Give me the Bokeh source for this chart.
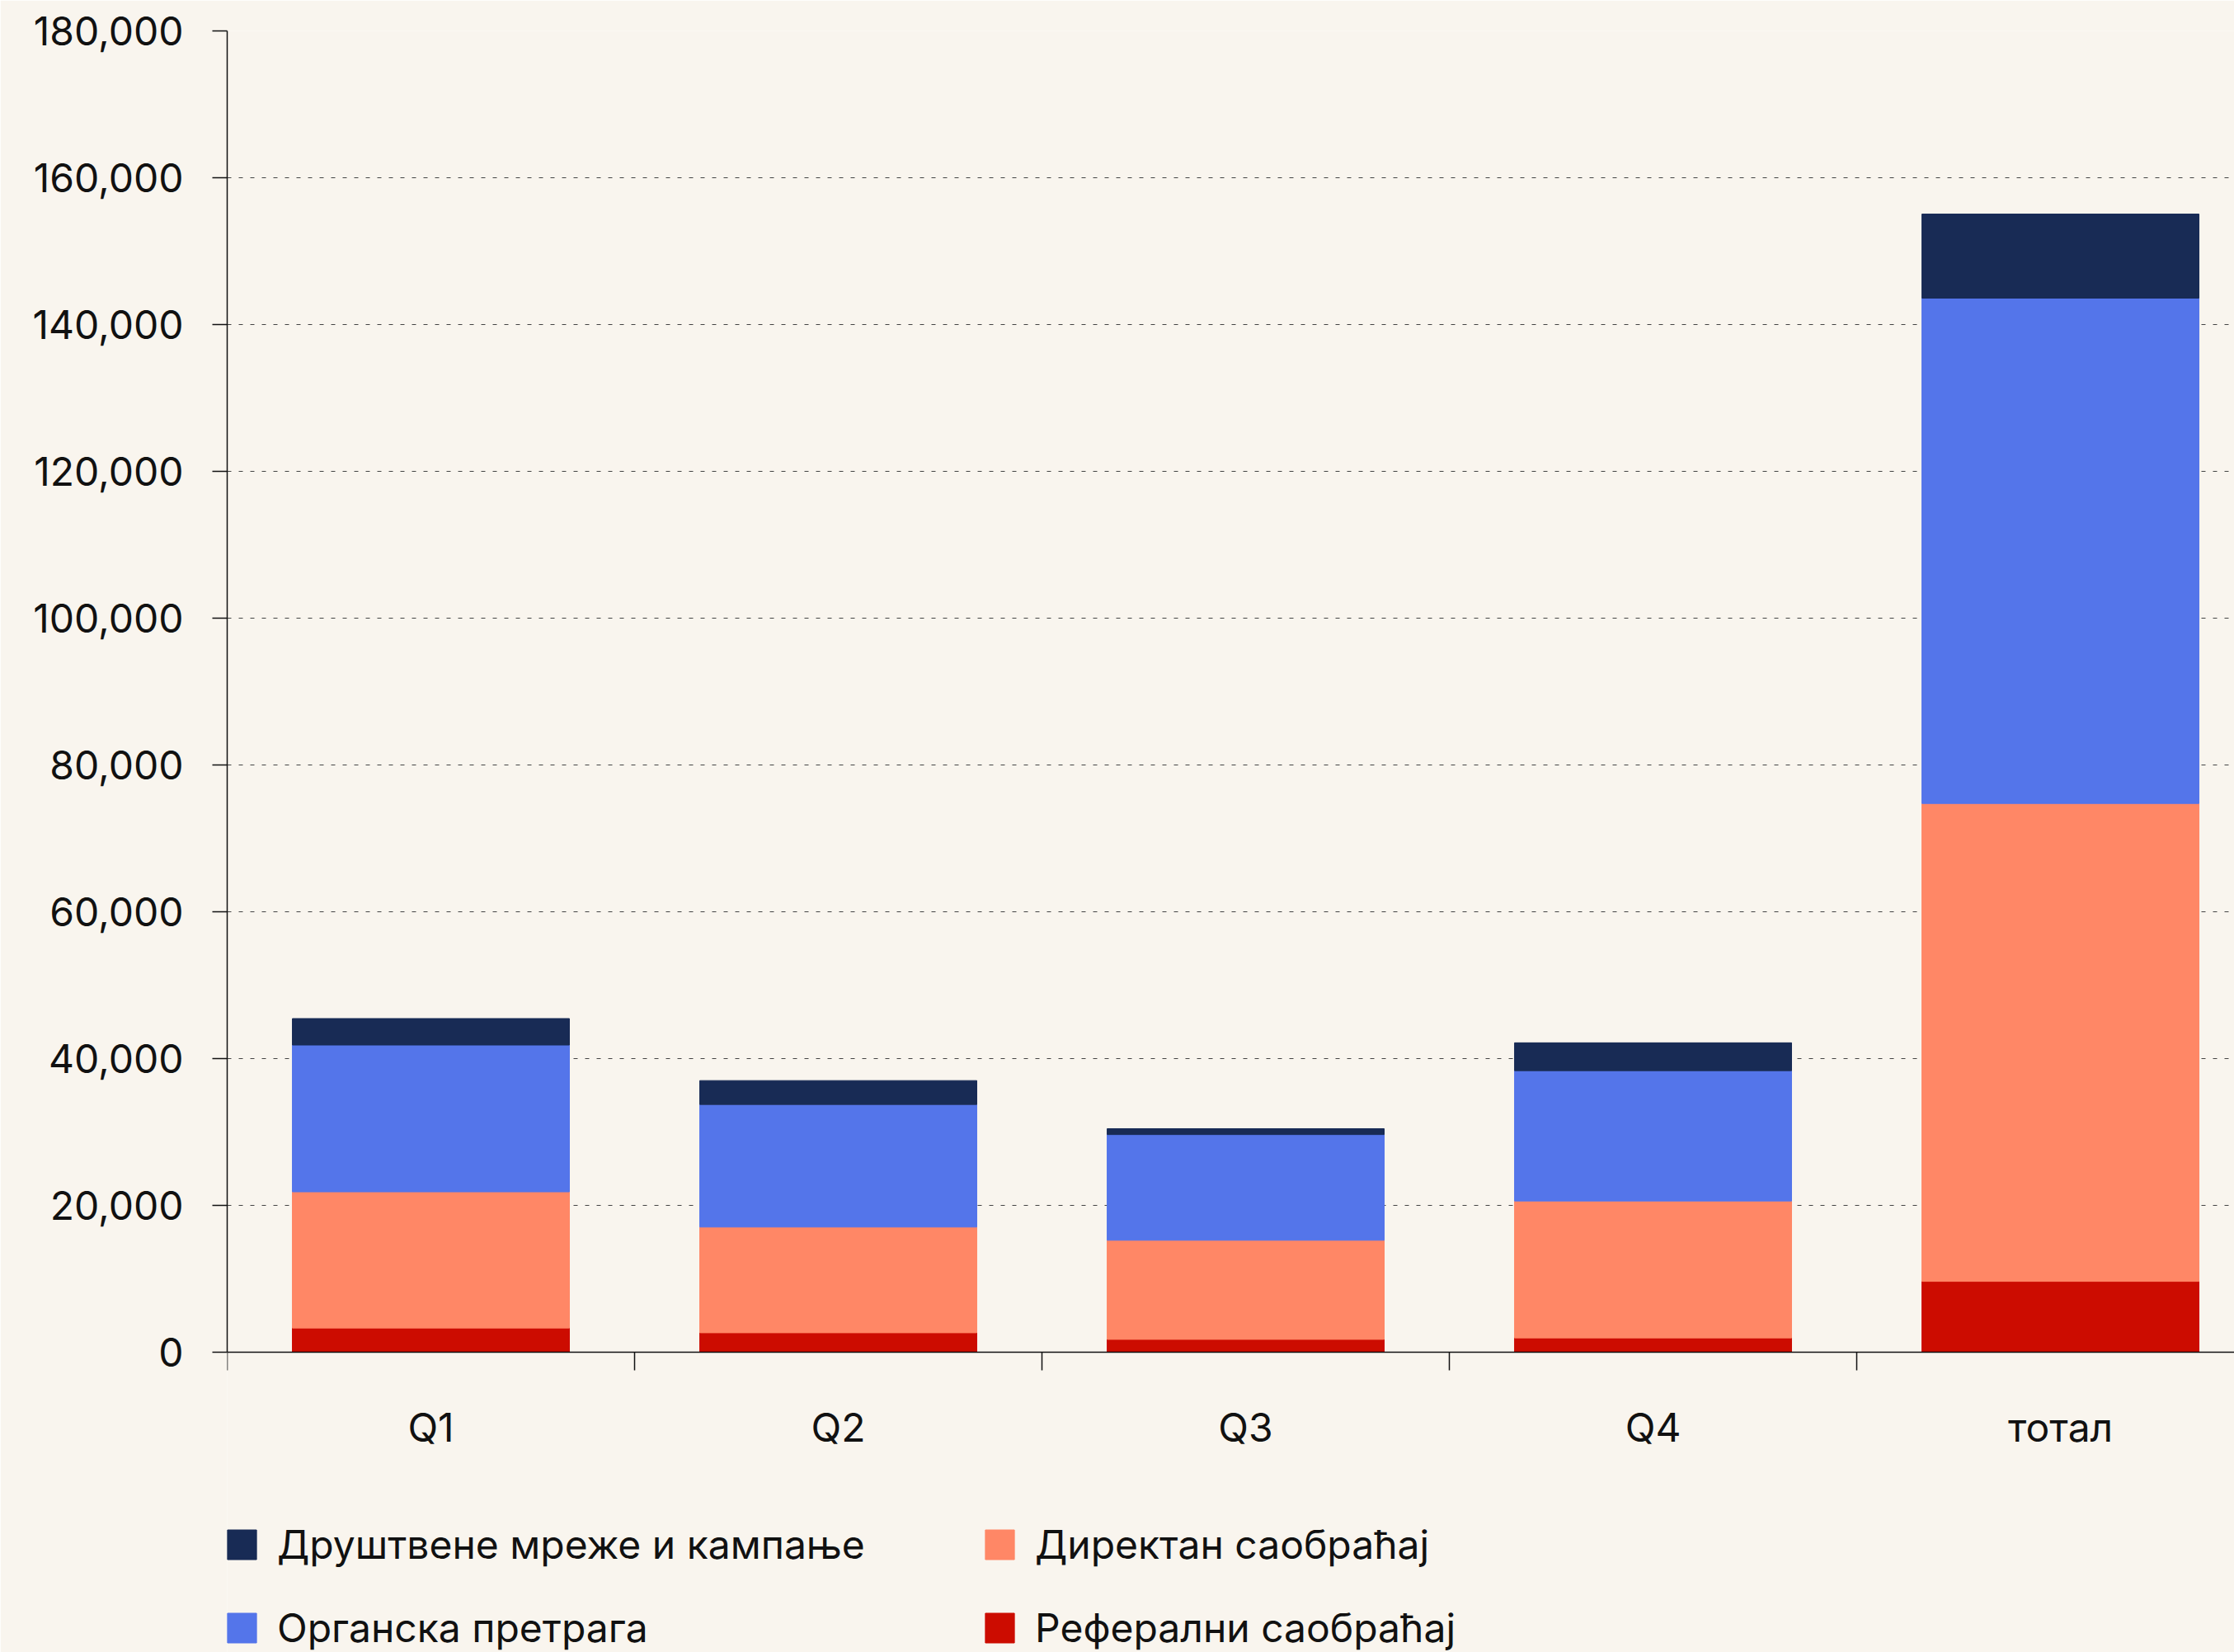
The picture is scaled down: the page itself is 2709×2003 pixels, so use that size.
from bokeh.plotting import figure
from bokeh.models import (Range1d, LinearAxis, FixedTicker, NumeralTickFormatter,
                          Legend, LegendItem, ColumnDataSource)
from bokeh.embed import file_html
from bokeh.resources import INLINE

# ---- data ----
categories = ["Q1", "Q2", "Q3", "Q4", "тотал"]
referral = [3300, 2650, 1750, 1950, 9650]
direct = [18550, 14400, 13500, 18650, 65100]
organic = [20000, 16700, 14400, 17750, 68850]
social = [3600, 3250, 800, 3800, 11450]
series_keys = ["referral", "direct", "organic", "social"]
series_labels = ["Реферални саобраћај", "Директан саобраћај",
                 "Органска претрага", "Друштвене мреже и кампање"]
series_colors = ["#CC0C00", "#FF8766", "#5475EA", "#182B55"]
y_ticks = [0, 20000, 40000, 60000, 80000, 100000, 120000, 140000, 160000, 180000]

BG = "#F9F5EE"
FONT = "Inter"
INK = "#111111"
VISIBLE = 4.927          # part of the last category slot that is visible
Y_MAX = 180000
FRAME_H = 1966           # frame runs down to the bottom of the page (legend lives inside)
PX_PER_UNIT = 178 / 20000
Y_MIN = Y_MAX - FRAME_H / PX_PER_UNIT

# category slots on a numeric axis: slot i spans [i, i+1], centre at i+0.5
x_centers = [i + 0.5 for i in range(len(categories))]
x_bounds = [float(i) for i in range(len(categories))]

source = ColumnDataSource(dict(x=x_centers, cat=categories, referral=referral,
                               direct=direct, organic=organic, social=social))

p = figure(x_range=Range1d(0, VISIBLE), y_range=Range1d(Y_MIN, Y_MAX),
           frame_width=2434, frame_height=FRAME_H,
           min_border_left=275, min_border_right=0, min_border_top=37, min_border_bottom=0,
           x_axis_location=None, output_backend="svg", toolbar_location=None,
           background_fill_color=BG, border_fill_color=BG, outline_line_color=None)

# x axis at y=0: labels at slot centres, (minor) ticks at slot boundaries
x_ax = LinearAxis(ticker=FixedTicker(ticks=x_centers, minor_ticks=x_bounds),
                  fixed_location=0,
                  major_label_overrides={c: n for c, n in zip(x_centers, categories)},
                  axis_line_width=1.5, axis_line_color=INK,
                  major_tick_line_color=None, major_tick_out=0, major_tick_in=0,
                  minor_tick_line_color=INK, minor_tick_line_width=1.5,
                  minor_tick_out=22, minor_tick_in=0,
                  major_label_standoff=39, major_label_text_font=FONT,
                  major_label_text_font_size="48px", major_label_text_color=INK)
p.add_layout(x_ax, "below")
p.xgrid.visible = False

# y axis
yt = FixedTicker(ticks=y_ticks)
p.yaxis.ticker = yt
p.ygrid.ticker = yt
p.yaxis.bounds = (0, Y_MAX)
p.yaxis.formatter = NumeralTickFormatter(format="0,0")
p.yaxis.major_tick_out = 18
p.yaxis.major_tick_in = 0
p.yaxis.minor_tick_line_color = None
p.yaxis.axis_line_width = 1.5
p.yaxis.axis_line_color = INK
p.yaxis.major_tick_line_width = 1.5
p.yaxis.major_tick_line_color = INK
p.yaxis.major_label_standoff = 35
p.yaxis.major_label_text_font = FONT
p.yaxis.major_label_text_font_size = "48px"
p.yaxis.major_label_text_color = INK

p.ygrid.grid_line_color = "#444444"
p.ygrid.grid_line_dash = "5 9"
p.ygrid.grid_line_width = 1

renderers = p.vbar_stack(series_keys, x="x", width=0.68, color=series_colors,
                         source=source)
rmap = dict(zip(series_keys, renderers))
lmap = dict(zip(series_keys, series_labels))
order = ["social", "organic", "direct", "referral"]
legend = Legend(items=[LegendItem(label=lmap[k], renderers=[rmap[k]]) for k in order],
                location=(-4, 0), orientation="vertical", nrows=2,
                spacing=42, label_height=58, label_width=812,
                glyph_height=45, glyph_width=44, label_standoff=21,
                padding=0, margin=0, border_line_color=None, background_fill_alpha=0,
                label_text_font=FONT, label_text_font_size="48px",
                label_text_color=INK)
p.add_layout(legend, "center")

open("out.html", "w").write(file_html(p, INLINE))
